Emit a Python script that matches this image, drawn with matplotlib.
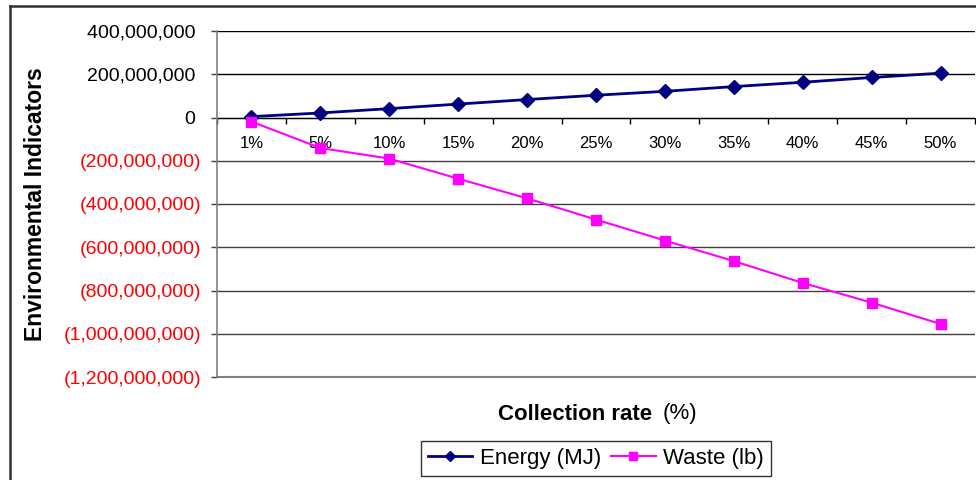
import numpy as np
import matplotlib.pyplot as plt
from matplotlib.ticker import FixedLocator, FuncFormatter
from matplotlib.lines import Line2D

plt.rcParams['font.family'] = ['Liberation Sans', 'DejaVu Sans']

rates = ['1%', '5%', '10%', '15%', '20%', '25%', '30%', '35%', '40%', '45%', '50%']
energy = [4e6, 21e6, 41e6, 62e6, 83e6, 103e6, 121e6, 143e6, 163e6, 185e6, 205e6]
waste = [-19e6, -141e6, -190e6, -283e6, -374e6, -472e6, -569e6, -664e6, -765e6, -856e6, -955e6]
yticks = np.arange(-1.2e9, 4.01e8, 2e8)

W, H = 976, 480
fig = plt.figure(figsize=(W / 100, H / 100), dpi=100)
ax = fig.add_axes([217 / W, 1 - 377 / H, (975 - 217) / W, (377 - 31) / H])

x = np.arange(len(rates)) + 0.5
ax.plot(x, energy, color='#000080', lw=2, marker='D', ms=7, zorder=4, label='Energy (MJ)')
ax.plot(x, waste, color='#FF00FF', lw=1.5, marker='s', ms=7, zorder=4, label='Waste (lb)')

ax.set_xlim(0, len(rates))
ax.set_ylim(yticks[0], yticks[-1])

# horizontal gridlines
for v in yticks[1:]:
    ax.axhline(v, color='#000000' if v >= 0 else '#404040', lw=1, zorder=1)

for s in ['top', 'right']:
    ax.spines[s].set_visible(False)
ax.spines['left'].set_color('#808080')
ax.spines['left'].set_linewidth(1.2)
ax.spines['bottom'].set_position(('data', 0))
ax.spines['bottom'].set_color('black')
ax.spines['bottom'].set_zorder(2)
ax.axhline(yticks[0], color='#808080', lw=1.5, zorder=1, clip_on=False)

# category axis sits on the zero line
ax.xaxis.set_major_locator(FixedLocator(np.arange(len(rates) + 1)))
ax.xaxis.set_minor_locator(FixedLocator(x))
ax.xaxis.set_major_formatter(FuncFormatter(lambda v, p: ''))
ax.set_xticklabels(rates, minor=True)
ax.tick_params(axis='x', which='major', direction='out', length=4.5, width=1, color='black')
ax.tick_params(axis='x', which='minor', length=0, pad=13, labelsize=12)


def money(v, pos):
    # accounting style: negatives in brackets, positives padded to line up
    if v < 0:
        return '({:,.0f})'.format(-v)
    return '{:,.0f} '.format(v)


ax.yaxis.set_major_locator(FixedLocator(yticks))
ax.yaxis.set_major_formatter(FuncFormatter(money))
ax.tick_params(axis='y', direction='out', length=4.5, width=1, color='#404040', pad=7, labelsize=14)
fig.canvas.draw()
for lab, v in zip(ax.get_yticklabels(), yticks):
    lab.set_color('red' if v < 0 else 'black')

fig.text(652 / W, 1 - 414 / H, 'Collection rate', ha='right', va='center',
         fontsize=16, fontweight='bold')
fig.text(663 / W, 1 - 414 / H, '(%)', ha='left', va='center', fontsize=16)
fig.text(36 / W, 1 - 204 / H, 'Environmental Indicators', rotation=90,
         ha='center', va='center', fontsize=16.5, fontweight='bold')

leg = fig.legend(loc='center', bbox_to_anchor=(596 / W, 1 - 458.5 / H), ncol=2,
                 fontsize=16, frameon=True, fancybox=False, edgecolor='black',
                 handlelength=2.0, handletextpad=0.35, columnspacing=0.45,
                 borderpad=0.3, markerscale=0.75, borderaxespad=0)
leg.get_frame().set_linewidth(1)

# outer chart border (left and top edges)
fig.add_artist(Line2D([10 / W, 10 / W], [0, 1 - 6 / H], color='#303030', lw=1.8))
fig.add_artist(Line2D([10 / W, 1], [1 - 6 / H, 1 - 6 / H], color='#303030', lw=1.8))

fig.savefig('out.png', dpi=100)
